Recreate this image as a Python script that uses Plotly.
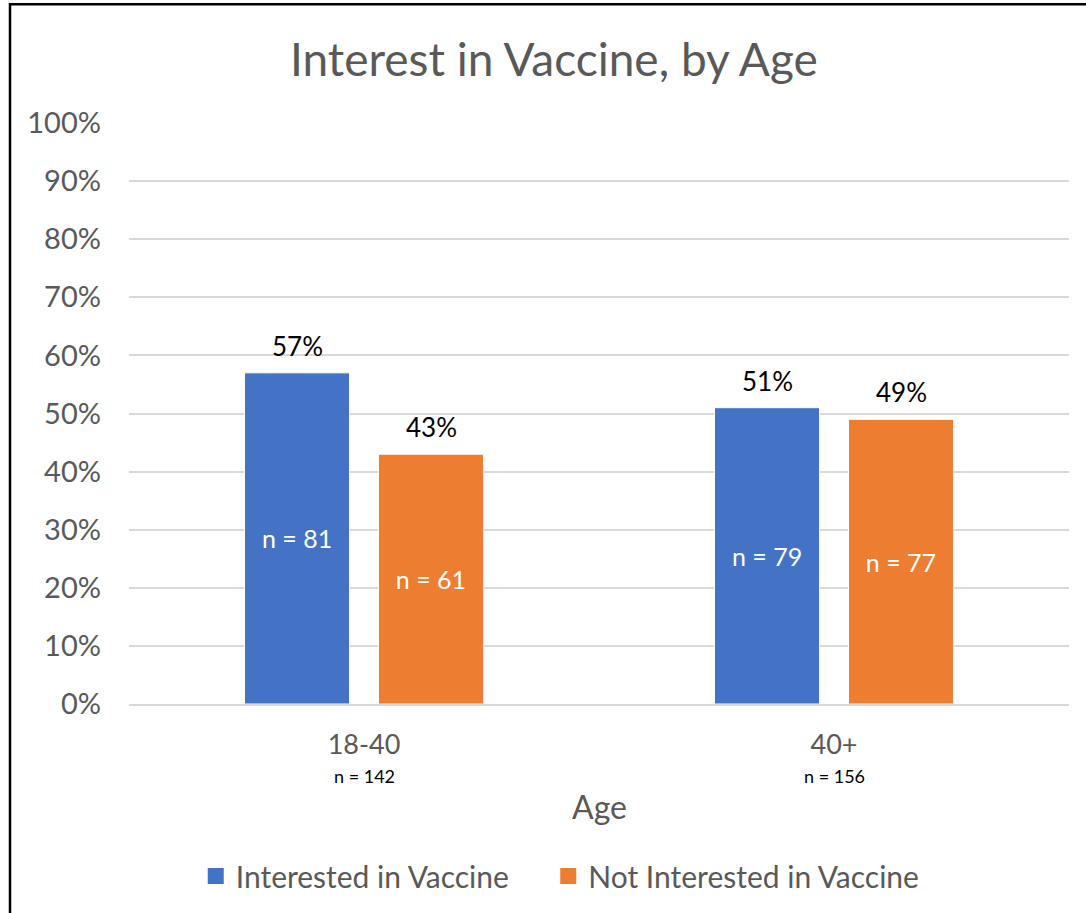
import plotly.graph_objects as go

# Data
ages = ["18-40", "40+"]
age_n = ["n = 142", "n = 156"]
interested = [57, 51]
not_interested = [43, 49]
interested_n = ["n = 81", "n = 79"]
not_interested_n = ["n = 61", "n = 77"]

blue = "#4472C4"
orange = "#ED7D31"
grey = "#595959"
font_family = "Lato, Noto Sans, sans-serif"

W, H = 1086, 913

fig = go.Figure()
fig.add_trace(go.Bar(
    x=ages, y=interested, name="Interested in Vaccine", showlegend=False,
    marker=dict(color=blue, line=dict(color="white", width=1)),
    text=interested_n, textposition="inside", insidetextanchor="middle",
    textfont=dict(color="white", size=25, family=font_family),
))
fig.add_trace(go.Bar(
    x=ages, y=not_interested, name="Not Interested in Vaccine", showlegend=False,
    marker=dict(color=orange, line=dict(color="white", width=1)),
    text=not_interested_n, textposition="inside", insidetextanchor="middle",
    textfont=dict(color="white", size=25, family=font_family),
))

# legend-only entries with bigger square swatches, one legend box each
for name, col, lg in [("Interested in Vaccine", blue, "legend"),
                      ("Not Interested in Vaccine", orange, "legend2")]:
    fig.add_trace(go.Scatter(
        x=[None], y=[None], mode="markers", name=name, legend=lg,
        marker=dict(symbol="square", size=18, color=col),
    ))

# percent labels above bars (shifted to each bar of the group)
annotations = []
for vals, shift in [(interested, -67), (not_interested, 67)]:
    for a, v in zip(ages, vals):
        annotations.append(dict(
            x=a, y=v, xref="x", yref="y", text=f"{v}%", showarrow=False,
            xshift=shift, yshift=9, yanchor="bottom",
            font=dict(size=26, color="black", family=font_family),
        ))

# sample sizes under the category labels
for a, n in zip(ages, age_n):
    annotations.append(dict(
        x=a, y=-0.124, xref="x", yref="paper", text=n, showarrow=False,
        yanchor="middle", font=dict(size=18, color="black", family=font_family),
    ))

# axis title
annotations.append(dict(
    x=0.5, y=-0.176, xref="paper", yref="paper", text="Age", showarrow=False,
    yanchor="middle", font=dict(size=32, color=grey, family=font_family),
))

legend_style = dict(orientation="h", xanchor="left", y=-0.294, yanchor="middle",
                    font=dict(size=30, color=grey, family=font_family),
                    itemwidth=30, bgcolor="rgba(0,0,0,0)")

fig.update_layout(
    width=W, height=H,
    margin=dict(l=129, r=17, t=123, b=208),
    paper_bgcolor="white", plot_bgcolor="white",
    font=dict(family=font_family, color=grey),
    title=dict(text="Interest in Vaccine, by Age", x=0.51, xanchor="center",
               y=1 - 60 / H, yanchor="middle",
               font=dict(size=46, color=grey, family=font_family)),
    barmode="group", bargap=0.43, bargroupgap=0.216,
    showlegend=True,
    legend=dict(x=0.071, **legend_style),
    legend2=dict(x=0.446, **legend_style),
    annotations=annotations,
    shapes=[dict(type="rect", xref="paper", yref="paper",
                 x0=(10 - 129) / 940, x1=1.2, y0=-0.6, y1=(705 - 4) / 582,
                 line=dict(color="black", width=2.5), fillcolor="rgba(0,0,0,0)",
                 layer="below")],
)
fig.update_yaxes(range=[0, 100], dtick=10, ticksuffix="%", showgrid=True,
                 gridcolor="#D9D9D9", gridwidth=1.5, zeroline=False, showline=False,
                 tickfont=dict(size=29, color=grey, family=font_family),
                 ticklabelstandoff=27)
fig.update_xaxes(showline=True, linecolor="#D9D9D9", linewidth=2, showgrid=False,
                 tickfont=dict(size=27, color=grey, family=font_family),
                 ticklabelstandoff=16)

# drop the page's default body margin so the chart sits at the window's corner
fig.write_html("out.html", config={"displayModeBar": False},
               post_script="document.body.style.margin='0';")
